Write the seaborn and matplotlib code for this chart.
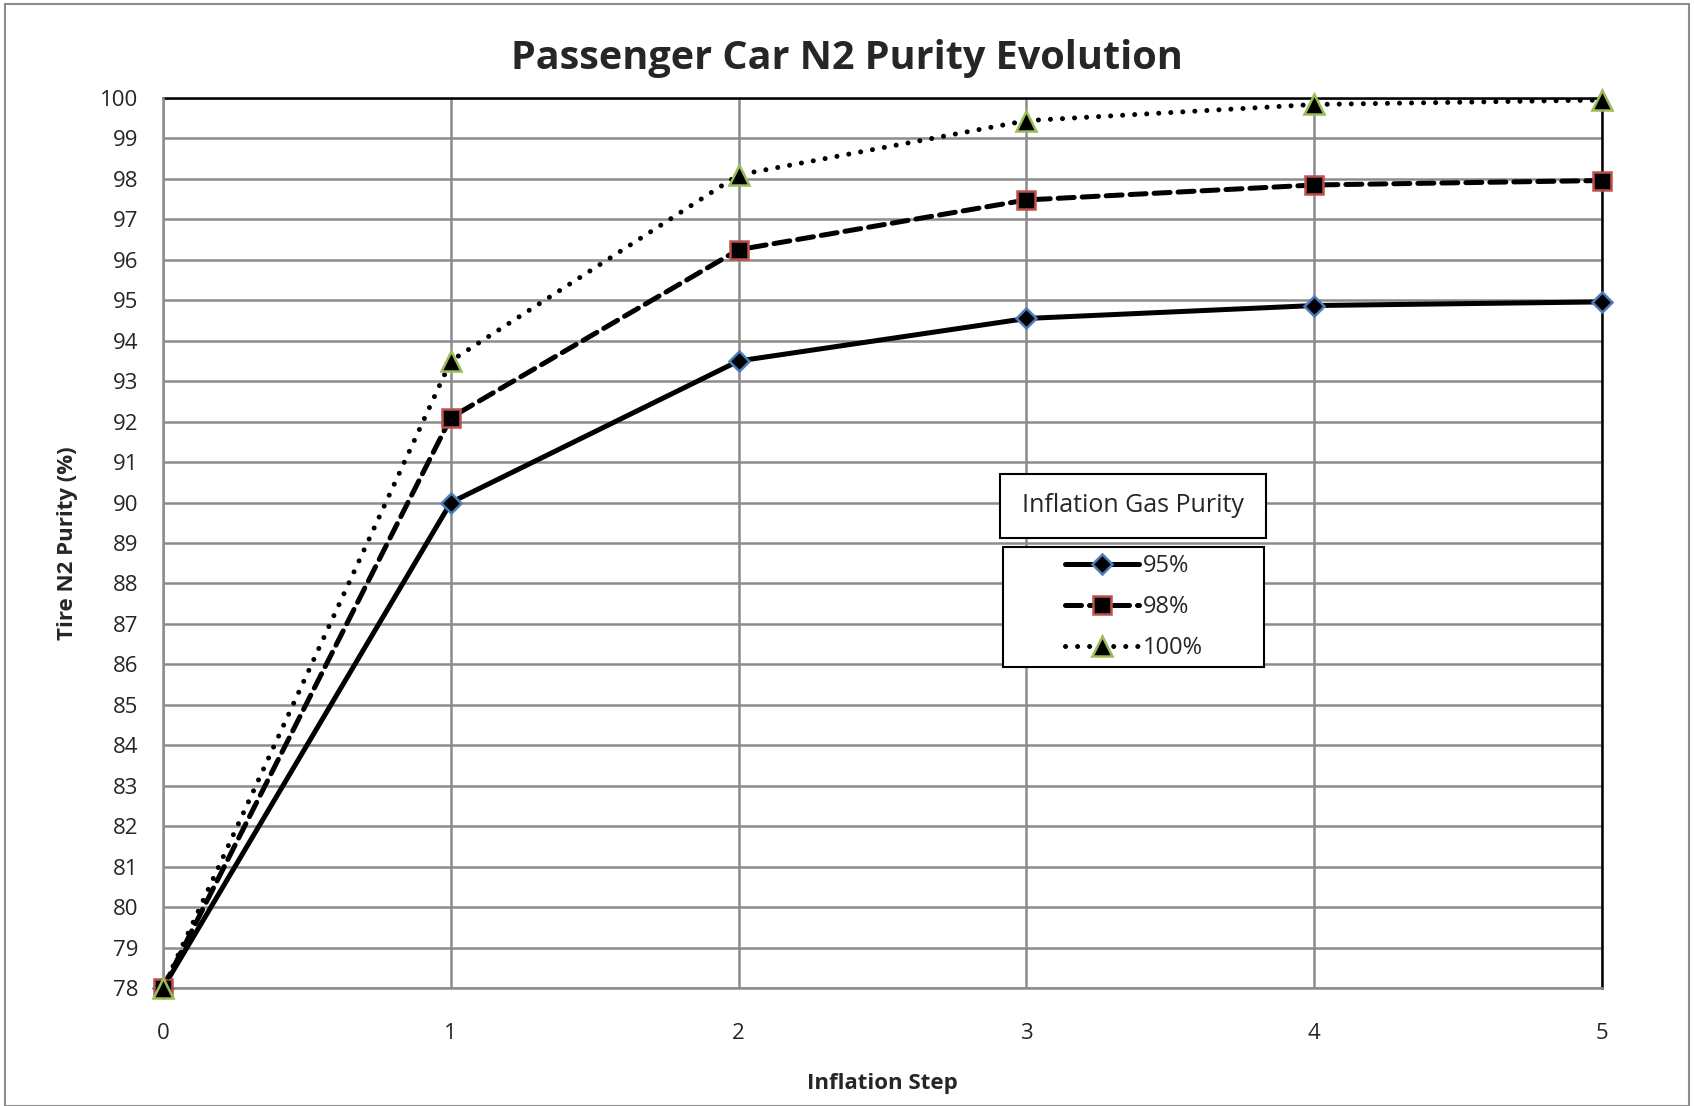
import matplotlib
matplotlib.use("Agg")
import pandas as pd
import matplotlib.pyplot as plt
import seaborn as sns

# Valores
steps = [0, 1, 2, 3, 4, 5]
purity_95 = [78.0, 90.0, 93.5, 94.55, 94.87, 94.96]
purity_98 = [78.0, 92.1, 96.25, 97.48, 97.85, 97.96]
purity_100 = [78.0, 93.5, 98.1, 99.44, 99.84, 99.95]
series_labels = ["95%", "98%", "100%"]
y_ticks = list(range(78, 101))

sns.set_theme(style="white")
plt.rcParams["font.family"] = ["Open Sans", "DejaVu Sans"]

df = pd.DataFrame({
    "step": steps * 3,
    "purity": purity_95 + purity_98 + purity_100,
    "gas": [series_labels[0]] * 6 + [series_labels[1]] * 6 + [series_labels[2]] * 6,
})

W, H = 1694, 1106
fig = plt.figure(figsize=(W / 100, H / 100), dpi=100)
ax = fig.add_axes([163 / W, 1 - 988 / H, (1602 - 163) / W, (988 - 98) / H])

styles = {
    "95%": dict(linestyle="-", marker="D", markersize=10, markeredgecolor="#4a7ebb",
                linewidth=3.6),
    "98%": dict(linestyle=(0, (3.2, 1.6)), marker="s", markersize=13.5, markeredgecolor="#c0504d",
                linewidth=3.6),
    "100%": dict(linestyle=(0, (0.01, 2.4)), marker="^", markersize=14, markeredgecolor="#9bbb59",
                 linewidth=3.6),
}

for gas in series_labels:
    sub = df[df["gas"] == gas]
    sns.lineplot(data=sub, x="step", y="purity", ax=ax, color="black",
                 markerfacecolor="black", markeredgewidth=1.8, label=gas, zorder=3,
                 clip_on=False, **styles[gas])

for line in ax.get_lines():
    line.set_dash_capstyle("round")
    line.set_clip_on(False)

ax.set_xlim(0, 5)
ax.set_ylim(78, 100)
ax.set_xticks(steps)
ax.set_yticks(y_ticks)
ax.grid(True, color="#8c8c8c", linewidth=1.8)
ax.set_axisbelow(True)
ax.tick_params(axis="x", length=0, pad=25, labelsize=16)
ax.tick_params(axis="y", length=0, pad=18, labelsize=16)

for side in ["left", "bottom"]:
    ax.spines[side].set_color("#8c8c8c")
    ax.spines[side].set_linewidth(1.8)
for side in ["top", "right"]:
    ax.spines[side].set_color("black")
    ax.spines[side].set_linewidth(1.8)
    ax.spines[side].set_zorder(2)

fig.text(0.5, 1 - 58 / H, "Passenger Car N2 Purity Evolution", ha="center", va="center",
         fontsize=28.5, fontweight="bold")
ax.set_xlabel("Inflation Step", fontsize=16, fontweight="bold", labelpad=21)
ax.set_ylabel("Tire N2 Purity (%)", fontsize=16, fontweight="bold", labelpad=16)

# Caixa do título da legenda
ax.add_patch(plt.Rectangle((1000 / W, 1 - 538 / H), 266 / W, 64 / H, transform=fig.transFigure,
                           facecolor="white", edgecolor="black", linewidth=1.5, zorder=4,
                           clip_on=False))
ax.text(1133 / W, 1 - 506 / H, "Inflation Gas Purity", transform=fig.transFigure,
        ha="center", va="center", fontsize=18, zorder=5)

# Caixa das entradas da legenda
ax.add_patch(plt.Rectangle((1003 / W, 1 - 667 / H), 261 / W, 120 / H, transform=fig.transFigure,
                           facecolor="white", edgecolor="black", linewidth=1.5, zorder=4,
                           clip_on=False))
leg = ax.legend(loc="upper left", bbox_to_anchor=(1065 / W, 1 - 554 / H),
                bbox_transform=fig.transFigure, frameon=False, fontsize=17,
                handlelength=3.15, handletextpad=0.15, labelspacing=0.72,
                borderpad=0.0, borderaxespad=0)
leg.set_zorder(6)

# Borda externa do gráfico
fig.patches.append(plt.Rectangle((0.003, 0.0), 0.994, 0.996, transform=fig.transFigure,
                                 fill=False, edgecolor="#8c8c8c", linewidth=1.5))

plt.savefig("out.png", dpi=100)
plt.close()
